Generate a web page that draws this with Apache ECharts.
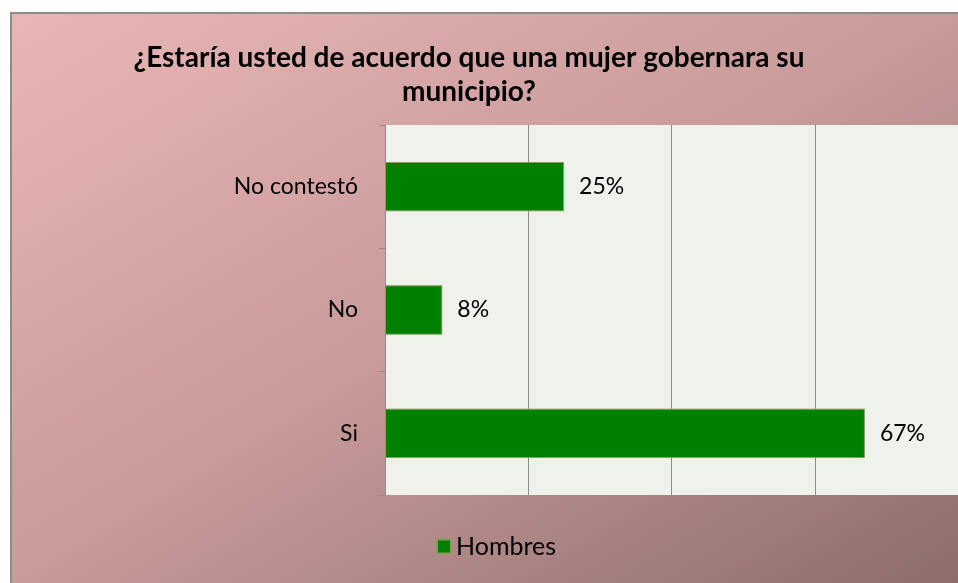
<!DOCTYPE html>
<html>
<head>
<meta charset="utf-8">
<script src="https://cdn.jsdelivr.net/npm/echarts@6/dist/echarts.min.js"></script>
<style>
  body { margin: 0; background: #fff; }
  #frame {
    position: absolute; left: 10px; top: 12px;
    width: 948px; height: 571px;
    border-left: 2px solid #8c8c8c; border-top: 2px solid #8c8c8c;
    box-sizing: border-box;
  }
  #chart { width: 100%; height: 100%; }
</style>
</head>
<body>
<div id="frame"><div id="chart"></div></div>
<script>
// categories listed bottom to top
const categories = ["Si", "No", "No contestó"];
const hombres = [0.67, 0.08, 0.25];
const titleText = "¿Estaría usted de acuerdo que una mujer gobernara su\nmunicipio?";

var myChart = echarts.init(document.getElementById("chart"));
var option = {
  // diagonal fill, top-right and bottom-left corners at the midpoint
  backgroundColor: {
    type: "linear", x: 0, y: 0, x2: 0.531, y2: 1.469,
    colorStops: [
      { offset: 0, color: "#e9b6b6" },
      { offset: 0.5, color: "#c89a9a" },
      { offset: 1, color: "#8d6d6d" },
    ],
  },
  textStyle: { fontFamily: "Lato" },
  title: {
    text: titleText,
    left: 457,
    textAlign: "center",
    top: 27,
    padding: 0,
    textStyle: {
      fontFamily: "Lato",
      fontWeight: "bold",
      fontSize: 28,
      lineHeight: 34,
      color: "#000",
    },
  },
  legend: {
    data: ["Hombres"],
    left: 424,
    top: 520,
    padding: 0,
    icon: "rect",
    itemWidth: 14,
    itemHeight: 14,
    itemGap: 6,
    textStyle: { fontSize: 25, color: "#000", fontFamily: "Lato" },
  },
  grid: {
    left: 373, top: 111, right: -1, bottom: 88,
    show: true, backgroundColor: "#eff2ea", borderWidth: 0,
  },
  xAxis: {
    type: "value",
    min: 0, max: 0.8, interval: 0.2,
    axisLabel: { show: false },
    axisLine: { show: false },
    axisTick: { show: false },
    splitLine: { show: true, lineStyle: { color: "#8c8c8c", width: 1 } },
  },
  yAxis: {
    type: "category",
    data: categories,
    axisLine: { show: true, lineStyle: { color: "#8c8c8c", width: 1 } },
    axisTick: { show: true, length: 6, lineStyle: { color: "#8c8c8c" } },
    axisLabel: { color: "#000", fontSize: 23, margin: 27, fontFamily: "Lato" },
  },
  series: [
    {
      name: "Hombres",
      type: "bar",
      data: hombres,
      barWidth: "40%",
      itemStyle: { color: "#008000", borderColor: "#8a9a5b", borderWidth: 1 },
      label: {
        show: true,
        position: "right",
        distance: 15,
        color: "#000",
        fontSize: 23,
        fontFamily: "Lato",
        formatter: function (p) { return Math.round(p.value * 100) + "%"; },
      },
    },
  ],
};
myChart.setOption(option);
</script>
</body>
</html>
